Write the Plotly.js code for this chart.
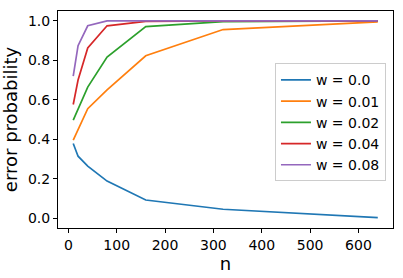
<!DOCTYPE html>
<html><head><meta charset="utf-8">
<script src="https://cdn.plot.ly/plotly-3.0.1.min.js"></script>
<style>html,body{margin:0;padding:0;background:#fff}#chart{width:403px;height:278px}</style>
</head><body><div id="chart"></div>
<script>
const n = [10, 20, 40, 80, 160, 320, 640];
const seriesNames = ["w = 0.0", "w = 0.01", "w = 0.02", "w = 0.04", "w = 0.08"];
const w000 = [0.378, 0.314, 0.264, 0.188, 0.092, 0.045, 0.003];
const w001 = [0.395, 0.45, 0.555, 0.65, 0.823, 0.956, 0.995];
const w002 = [0.497, 0.55, 0.664, 0.817, 0.971, 0.996, 1.0];
const w004 = [0.576, 0.70, 0.863, 0.975, 0.997, 1.0, 1.0];
const w008 = [0.72, 0.874, 0.975, 1.0, 1.0, 1.0, 1.0];
const colors = ["#1f77b4", "#ff7f0e", "#2ca02c", "#d62728", "#9467bd"];
const allY = [w000, w001, w002, w004, w008];

const traces = allY.map((ys, i) => ({
  x: n, y: ys, type: "scatter", mode: "lines", name: seriesNames[i],
  line: {color: colors[i], width: 1.7}
}));

const font = {family: "DejaVu Sans, sans-serif", color: "#000"};
const layout = {
  width: 403, height: 278,
  margin: {l: 58, r: 10, t: 11, b: 50},
  paper_bgcolor: "#fff", plot_bgcolor: "#fff",
  font: Object.assign({size: 14}, font),
  showlegend: true,
  legend: {
    x: 0.979, y: 0.215, xanchor: "right", yanchor: "bottom",
    bgcolor: "rgba(255,255,255,0.8)", bordercolor: "#cccccc", borderwidth: 1,
    font: Object.assign({size: 14}, font), itemwidth: 30, tracegroupgap: 0
  },
  xaxis: {
    range: [-21.5, 671.5], tickvals: [0,100,200,300,400,500,600],
    ticks: "outside", ticklen: 4, tickwidth: 1, tickcolor: "#000",
    showline: true, linecolor: "#000", linewidth: 1, mirror: true,
    showgrid: false, zeroline: false,
    tickfont: Object.assign({size: 14}, font),
    title: {text: "n", font: Object.assign({size: 18}, font), standoff: 0}
  },
  yaxis: {
    range: [-0.05, 1.05], tickvals: [0,0.2,0.4,0.6,0.8,1.0], tickformat: ".1f",
    ticks: "outside", ticklen: 4, tickwidth: 1, tickcolor: "#000",
    showline: true, linecolor: "#000", linewidth: 1, mirror: true,
    showgrid: false, zeroline: false,
    tickfont: Object.assign({size: 14}, font),
    title: {text: "error probability", font: Object.assign({size: 18}, font), standoff: 5}
  }
};
Plotly.newPlot("chart", traces, layout, {staticPlot: true, displayModeBar: false});
</script></body></html>
